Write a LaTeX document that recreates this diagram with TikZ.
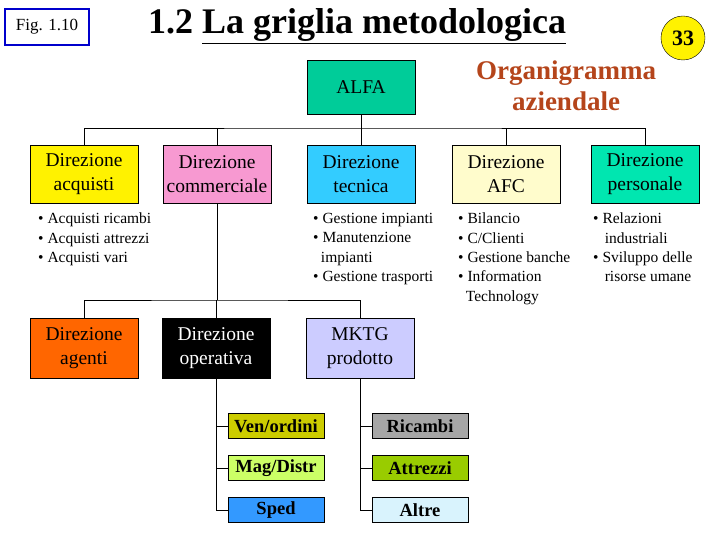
\documentclass[tikz,border=0pt]{standalone}
\usepackage{fontspec}
\setmainfont{Liberation Serif}
\definecolor{calfa}{HTML}{00CC99}
\definecolor{ctec}{HTML}{33CCFF}
\definecolor{cper}{HTML}{00E6B0}
\definecolor{corg}{HTML}{B5451B}
\definecolor{cage}{HTML}{FF6600}
\definecolor{cven}{HTML}{CCCC00}
\definecolor{cmag}{HTML}{CCFF66}
\definecolor{csped}{HTML}{3399FF}
\definecolor{catt}{HTML}{99CC00}
\begin{document}
\begin{tikzpicture}[x=1pt,y=-1pt,
 box/.style={draw,line width=0.8pt,minimum width=108pt,minimum height=58pt,inner sep=1pt,align=center,font=\fontsize{19.5}{24}\selectfont},
 sbox/.style={draw,line width=0.8pt,minimum width=96pt,minimum height=25pt,inner sep=0pt,font=\bfseries\fontsize{18.5}{20}\selectfont},
 lst/.style={anchor=north west,align=left,inner sep=0pt,font=\fontsize{15.5}{19.3}\selectfont},
 ln/.style={line width=0.8pt}]
\useasboundingbox (0,0) rectangle (720,540);
\node[draw=blue!80!black,line width=2.5pt,minimum width=84pt,minimum height=36pt,font=\fontsize{17}{18}\selectfont] (fig) at (47,27) {Fig. 1.10};
\node[font=\bfseries\fontsize{36}{38}\selectfont] (title) at (357,26) {1.2 \underline{La griglia metodologica}};
\node[circle,draw,fill=yellow,minimum size=44pt,inner sep=0pt,font=\bfseries\fontsize{22}{24}\selectfont] (pg) at (683,38) {33};
\node[align=center,text=corg,font=\bfseries\fontsize{27}{31}\selectfont] (org) at (566,86) {Organigramma\\aziendale};
\node[box,fill=calfa,minimum height=54pt] (alfa) at (361,87) {ALFA};
\node[box,fill=yellow] (acq) at (84,174) {Direzione\\acquisti};
\node[box,fill=magenta!40] (com) at (217,174) {Direzione\\commerciale};
\node[box,fill=ctec] (tec) at (361,174) {Direzione\\tecnica};
\node[box,fill=yellow!20] (afc) at (506,174) {Direzione\\AFC};
\node[box,fill=cper] (per) at (645,174) {Direzione\\personale};
\coordinate (h) at (361,128);
\draw[ln] (alfa.south) -- (h);
\draw[ln] (acq.north) |- (h) -| (per.north);
\draw[ln] (com.north) -- (com.north|-h);
\draw[ln] (tec.north) -- (h);
\draw[ln] (afc.north) -- (afc.north|-h);
\node[lst] (l1) at (38,213) {• Acquisti ricambi\\• Acquisti attrezzi\\• Acquisti vari};
\node[lst] (l2) at (313,213) {• Gestione impianti\\• Manutenzione\\\ \ impianti\\• Gestione trasporti};
\node[lst] (l3) at (458,213) {• Bilancio\\• C/Clienti\\• Gestione banche\\• Information\\\ \ Technology};
\node[lst] (l4) at (593,213) {• Relazioni\\\ \ \ industriali\\• Sviluppo delle\\\ \ \ risorse umane};
\node[box,fill=cage,minimum height=60pt] (age) at (84,348) {Direzione\\agenti};
\node[box,fill=black,text=white,minimum height=60pt] (ope) at (216,348) {Direzione\\operativa};
\node[box,fill=blue!20,minimum height=60pt] (mk) at (360,348) {MKTG\\prodotto};
\coordinate (h2) at (217,300);
\draw[ln] (com.south) -- (h2);
\draw[ln] (age.north) |- (h2) -| (mk.north);
\draw[ln] (ope.north) -- (ope.north|-h2);
\node[sbox,fill=cven] (v) at (276,426) {Ven/ordini};
\node[sbox,fill=cmag] (m) at (276,468) {Mag/Distr};
\node[sbox,fill=csped] (s) at (276,510) {Sped};
\node[sbox,fill=gray!70] (r) at (420,426) {Ricambi};
\node[sbox,fill=catt] (a) at (420,468) {Attrezzi};
\node[sbox,fill=cyan!15] (al) at (420,510) {Altre};
\draw[ln] (ope.south) |- (s.west);
\draw[ln] (v.west) -- (v.west-|ope.south);
\draw[ln] (m.west) -- (m.west-|ope.south);
\draw[ln] (mk.south) |- (al.west);
\draw[ln] (r.west) -- (r.west-|mk.south);
\draw[ln] (a.west) -- (a.west-|mk.south);
\end{tikzpicture}
\end{document}
